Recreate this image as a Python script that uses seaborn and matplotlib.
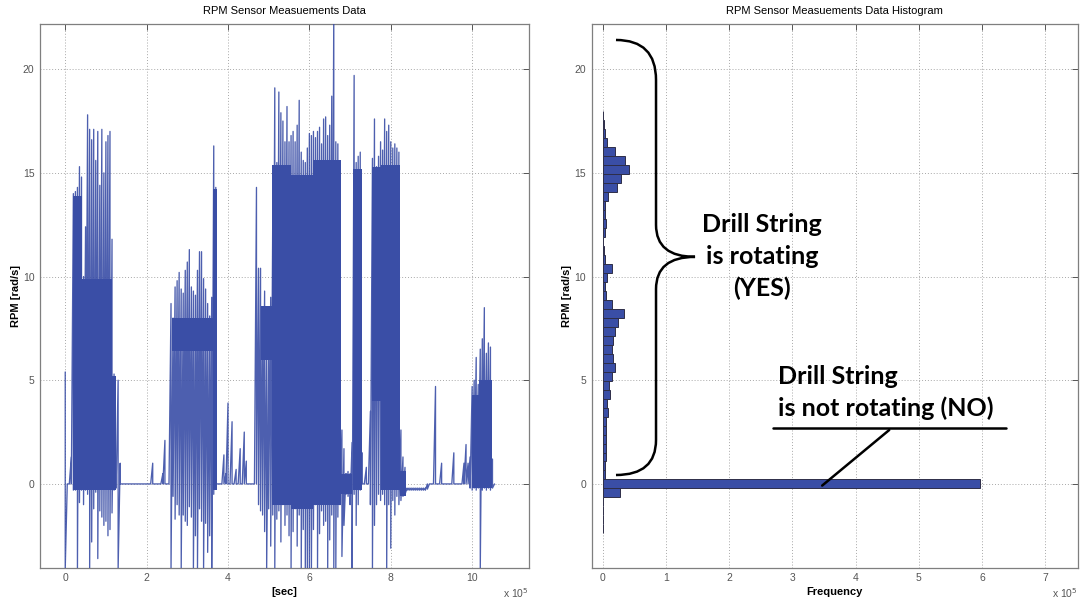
import numpy as np
import pandas as pd
import matplotlib.pyplot as plt
import matplotlib.patches as mpatches
from matplotlib.path import Path
from matplotlib.ticker import FuncFormatter
import seaborn as sns

# RPM signal, read off the picture as an envelope every 0.05 x 10^5 sec
# (max and min reached inside each slot)
rpm_hi = [5.4, 0, 0, 1.3, 14.0, 14.1, 14.3, 15.3, 14.8, 10.0,
          12.4, 17.8, 17.1, 16.6, 17.1, 15.6, 17.0, 14.4, 17.1, 15.0,
          16.5, 16.8, 17.0, 11.8, 5.3, 1.2, 5.0, 1.0, 0, 0,
          0, 0, 0, 0, 0, 0, 0, 0, 0, 0,
          0, 0, 0, 1.0, 0, 0, 0, 0, 0.5, 2.1,
          0, 0, 8.7, 8.0, 9.5, 9.8, 10.2, 9.4, 9.2, 10.3,
          10.7, 11.3, 9.5, 9.3, 9.1, 10.3, 11.2, 11.2, 9.9, 9.4,
          8.7, 8.1, 9.0, 16.3, 14.3, 0, 0, 0, 1.4, 0.5,
          3.9, 0, 3.0, 0, 0.7, 0, 1.7, 0, 2.5, 1.1,
          0, 0, 0, 0, 14.3, 10.4, 10.4, 8.5, 9.3, 7.0,
          6.5, 9.0, 13.0, 19.1, 15.5, 18.9, 17.9, 17.5, 16.5, 18.2,
          16.5, 16.8, 17.0, 16.5, 17.3, 18.5, 16.0, 15.6, 15.5, 16.2,
          16.9, 16.8, 17.0, 16.7, 17.0, 17.2, 16.4, 17.6, 17.7, 16.8,
          17.3, 18.7, 23.0, 16.5, 16.4, 15.5, 2.6, 1.7, 0.5, 0.6,
          0.5, 2.0, 19.7, 15.5, 15.8, 16.0, 1.5, 0, 0.8, 0,
          3.5, 15.7, 17.6, 15.3, 15.8, 16.5, 16.1, 17.6, 17.0, 17.3,
          16.5, 16.2, 16.4, 16.2, 16.0, 2.6, 1.3, 0.8, -0.2, -0.2,
          -0.2, -0.2, -0.2, -0.2, -0.2, -0.2, -0.2, -0.2, 0, 0,
          0, 0, 4.7, 0, 0, 1.0, 0, 0, 0, 0,
          0, 1.5, 0, 0, 0, 0, 1.0, 1.9, 1.0, 1.3,
          4.7, 5.0, 6.1, 4.8, 6.5, 7.0, 8.5, 6.3, 6.8, 6.6,
          1.2, 0]
rpm_lo = [-4.1, 0, 0, 0, -0.3, -0.3, -4.1, -0.9, -0.3, -1.0,
          -0.3, -0.5, -4.1, -2.8, -1.2, -0.4, -3.6, -1.3, -1.6, -2.0,
          -1.8, -2.5, -2.2, -1.4, -0.3, -0.2, -4.1, 0, 0, 0,
          0, 0, 0, 0, 0, 0, 0, 0, 0, 0,
          0, 0, 0, 0, 0, 0, 0, 0, 0, 0,
          0, 0, -4.1, -0.6, -1.7, -1.0, -1.5, -4.1, -1.5, -1.8,
          -2.0, -1.1, -1.6, -4.1, -2.5, -4.1, -1.2, -1.8, -4.1, -1.9,
          -3.3, -2.5, -4.1, -0.5, 0, 0, 0, 0, 0, 0,
          0, 0, 0, 0, 0, 0, 0, 0, 0, 0,
          0, 0, 0, 0, 0, -1.0, -1.3, -1.5, -2.3, -4.1,
          -1.2, -3.0, -1.5, -4.1, -1.7, -1.3, -2.8, -1.0, -2.0, -1.5,
          -2.5, -4.1, -2.3, -1.2, -3.0, -1.5, -4.1, -2.2, -4.1, -4.1,
          -4.1, -4.1, -2.2, -1.0, -4.1, -2.4, -1.3, -2.0, -1.8, -4.1,
          -2.7, -1.5, -4.1, -4.1, -1.6, -1.0, -3.5, -2.0, -0.5, -0.6,
          -1.0, -4.1, -0.5, -2.0, -1.0, -0.3, 0, 0, 0, 0,
          -1.0, -4.1, -2.0, -1.0, -0.5, -0.8, -0.5, -1.0, -4.1, -1.0,
          -3.1, -0.8, -1.5, -0.6, -1.0, -0.8, -0.6, -0.5, -0.3, -0.3,
          -0.3, -0.3, -0.3, -0.3, -0.3, -0.3, -0.3, -0.3, -0.25, 0,
          0, 0, 0, 0, 0, 0, 0, 0, 0, 0,
          0, 0, 0, 0, 0, 0, 0, 0, 0, -0.2,
          -0.3, -0.2, -0.3, -0.2, -4.1, -0.3, -0.2, -0.3, -0.2, -0.3,
          -0.2, 0]
t_step = 0.05  # x 10^5 sec

# dense (solid) parts of the signal: start, end, low, high
core_start = [0.20, 0.42, 1.15, 2.62, 3.62, 4.82, 5.08, 5.55, 6.10, 6.78, 7.08, 7.55, 7.75, 8.22, 10.00, 10.18]
core_end = [0.42, 1.15, 1.25, 3.62, 3.72, 5.08, 5.55, 6.10, 6.78, 7.05, 7.29, 7.75, 8.22, 8.38, 10.18, 10.48]
core_low = [-0.3, -0.3, -0.3, 6.4, -0.3, 6.0, -1.0, -1.2, -1.0, -0.5, -0.3, 4.0, -0.3, -0.6, -0.2, -0.2]
core_high = [13.9, 9.9, 5.2, 8.0, 14.2, 8.6, 15.4, 14.9, 15.6, 0.5, 15.2, 15.3, 15.4, 0.6, 4.3, 5.0]

# histogram: bins of ~0.433 rad/s centred on 0, index -5..41
bin_width = 0.433
bin_index = list(range(-5, 42))
bin_counts = [300, 300, 400, 500, 27000, 597000, 4000, 4000, 5000, 5500,
              4500, 4500, 5500, 8000, 7500, 11500, 10000, 14500, 20000, 17000,
              15000, 16000, 20000, 23500, 33000, 14000, 5000, 4000, 7500, 14500,
              3000, 2700, 1000, 3000, 5000, 3000, 3500, 8500, 22000, 29000,
              41500, 35500, 19000, 7000, 3000, 1500, 1000]

blue = "#3a4ea6"
grey = "#7f7f7f"

sns.set_theme(style="white")
plt.rcParams['font.family'] = ['Liberation Sans', 'DejaVu Sans']

fig = plt.figure(figsize=(10.82, 6.01), dpi=100)
ax1 = fig.add_axes([40 / 1082, 33.3 / 601, 488.7 / 1082, 543.7 / 601])
ax2 = fig.add_axes([591.7 / 1082, 33.3 / 601, 486 / 1082, 543.7 / 601])

# left: time signal
t = np.arange(len(rpm_hi)) * t_step
sig = pd.DataFrame({"t": np.repeat(t, 2),
                    "rpm": np.column_stack([rpm_hi, rpm_lo]).ravel()})
for s, e, lo, hi in zip(core_start, core_end, core_low, core_high):
    ax1.fill_between([s, e], lo, hi, color=blue, lw=0, zorder=2)
sns.lineplot(data=sig, x="t", y="rpm", sort=False, estimator=None,
             color=blue, lw=0.95, alpha=0.9, ax=ax1, zorder=3)
ax1.set_xlim(-0.62, 11.39)
ax1.set_xticks(range(0, 11, 2))
ax1.set_title("RPM Sensor Measuements Data", fontsize=8, pad=7, color="black")
ax1.set_xlabel("[sec]", fontsize=8, fontweight="bold", labelpad=3, color="black")

# right: histogram
hist = pd.DataFrame({"rpm": np.array(bin_index) * bin_width,
                     "count": np.array(bin_counts, dtype=float)})
lo_edge = float(hist["rpm"].min() - bin_width / 2)
hi_edge = float(hist["rpm"].max() + bin_width / 2)
sns.histplot(data=hist, y="rpm", weights="count", binwidth=bin_width,
             binrange=(lo_edge, hi_edge), ax=ax2,
             color=blue, edgecolor="#2e2e48", linewidth=0.7, alpha=1, zorder=3)
ax2.set_xlim(-0.174e5, 7.51e5)
ax2.set_xticks(np.arange(0, 8) * 1e5)
ax2.xaxis.set_major_formatter(FuncFormatter(lambda v, p: f"{v / 1e5:g}"))
ax2.set_title("RPM Sensor Measuements Data Histogram", fontsize=8, pad=7, color="black")
ax2.set_xlabel("Frequency", fontsize=8, fontweight="bold", labelpad=3, color="black")

for ax in (ax1, ax2):
    ax.set_ylim(-4.04, 22.18)
    ax.set_yticks(range(0, 21, 5))
    ax.set_ylabel("RPM [rad/s]", fontsize=8, fontweight="bold", labelpad=1.5, color="black")
    ax.grid(True, linestyle=(0, (1, 2)), color="#a8a8a8", lw=0.7, zorder=0)
    ax.set_axisbelow(True)
    for sp in ax.spines.values():
        sp.set_visible(True)
        sp.set_color(grey)
        sp.set_linewidth(0.9)
    ax.tick_params(direction="in", length=4, width=0.7, color="#555555",
                   top=True, right=True, labelsize=7.5, labelcolor="#555555", pad=4)
    ax.text(1.0, -0.047, r"x 10$^5$", transform=ax.transAxes, ha="right",
            va="center", fontsize=7.5, color="#555555")

# annotations on the histogram (x in units of 10^5)
brace_pts = np.array([(0.21, 21.41), (0.843, 21.41), (0.843, 19.48),
                      (0.843, 12.49), (0.843, 10.95), (1.46, 10.95),
                      (0.843, 10.95), (0.843, 9.40),
                      (0.843, 2.12), (0.843, 0.43), (0.21, 0.43)])
brace = Path(brace_pts * [1e5, 1],
             [Path.MOVETO, Path.CURVE3, Path.CURVE3,
              Path.LINETO, Path.CURVE3, Path.CURVE3,
              Path.CURVE3, Path.CURVE3,
              Path.LINETO, Path.CURVE3, Path.CURVE3])
ax2.add_patch(mpatches.PathPatch(brace, fill=False, lw=1.8, color="black", zorder=5))

note = dict(fontsize=18, fontweight="bold", family=["Lato", "DejaVu Sans"], color="black")
ax2.text(2.52e5, 12.49, "Drill String", ha="center", va="center", **note)
ax2.text(2.52e5, 10.95, "is rotating", ha="center", va="center", **note)
ax2.text(2.52e5, 9.45, "(YES)", ha="center", va="center", **note)
ax2.text(2.77e5, 5.16, "Drill String", ha="left", va="center", **note)
ax2.text(2.77e5, 3.66, "is not rotating (NO)", ha="left", va="center", **note)
ax2.plot([2.69e5, 6.38e5], [2.70, 2.70], color="black", lw=1.8, zorder=5)
ax2.plot([4.53e5, 3.47e5], [2.60, -0.08], color="black", lw=1.8, zorder=5)

fig.savefig("out.png", dpi=100)
